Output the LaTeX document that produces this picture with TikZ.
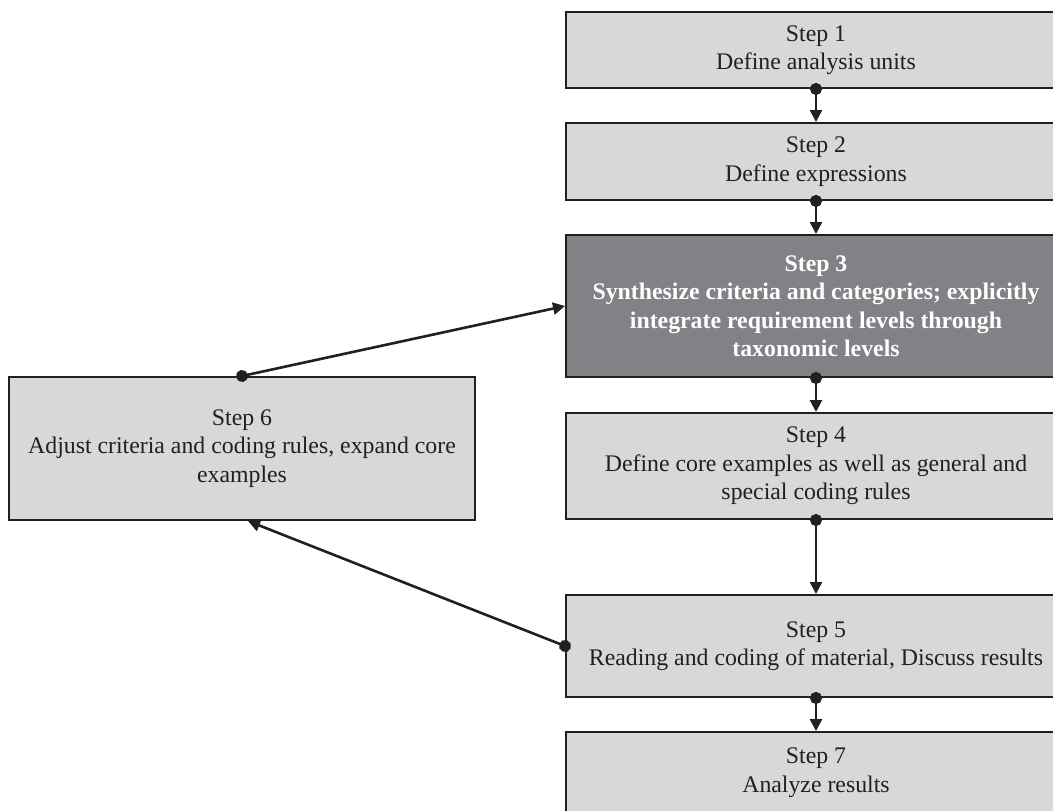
\documentclass[tikz,border=0pt]{standalone}
\usepackage{fontspec}
\setmainfont{Liberation Serif}
\usetikzlibrary{arrows.meta}
\definecolor{boxgray}{HTML}{D7D8DA}
\definecolor{darkbox}{HTML}{808285}
\definecolor{edge}{HTML}{231F20}
\begin{document}
\begin{tikzpicture}[x=1pt,y=-1pt,
  stepbox/.style={draw=edge, line width=2, fill=boxgray, rectangle, inner sep=0,
    align=center, font=\fontsize{23.8}{28.5}\selectfont, text=edge},
  darkstep/.style={stepbox, fill=darkbox, text=white, font=\fontsize{23.8}{28.5}\selectfont\bfseries},
  conn/.style={draw=edge, line width=2.6, shorten <=-6pt,
    {Circle[length=12pt,width=12pt]}-{Triangle[length=12pt,width=12pt]}}
]
\useasboundingbox (0,0) rectangle (1053,811);
\clip (0,0) rectangle (1053,811);
\fill[white] (0,0) rectangle (1053,811);

\node[stepbox, minimum width=500, minimum height=76] (s1) at (816,50)
  {Step 1\\Define analysis units};
\node[stepbox, minimum width=500, minimum height=77] (s2) at (816,161.5)
  {Step 2\\Define expressions};
\node[darkstep, minimum width=500, minimum height=142] (s3) at (816,306)
  {Step 3\\Synthesize criteria and categories; explicitly\\integrate requirement levels through\\taxonomic levels};
\node[stepbox, minimum width=500, minimum height=106] (s4) at (816,466)
  {Step 4\\Define core examples as well as general and\\special coding rules};
\node[stepbox, minimum width=500, minimum height=102] (s5) at (816,646)
  {Step 5\\Reading and coding of material, Discuss results};
\node[stepbox, minimum width=500, minimum height=81] (s7) at (816,772.5)
  {Step 7\\Analyze results};
\node[stepbox, minimum width=466, minimum height=143] (s6) at (242,448.5)
  {Step 6\\Adjust criteria and coding rules, expand core\\examples};

\draw[conn] (s1.south) -- (s2.north);
\draw[conn] (s2.south) -- (s3.north);
\draw[conn] (s3.south) -- (s4.north);
\draw[conn] (s4.south) -- (s5.north);
\draw[conn] (s5.south) -- (s7.north);
\draw[conn] (s6.north) -- (s3.west);
\draw[conn] (s5.west) -- ([xshift=6]s6.south);
\end{tikzpicture}
\end{document}
